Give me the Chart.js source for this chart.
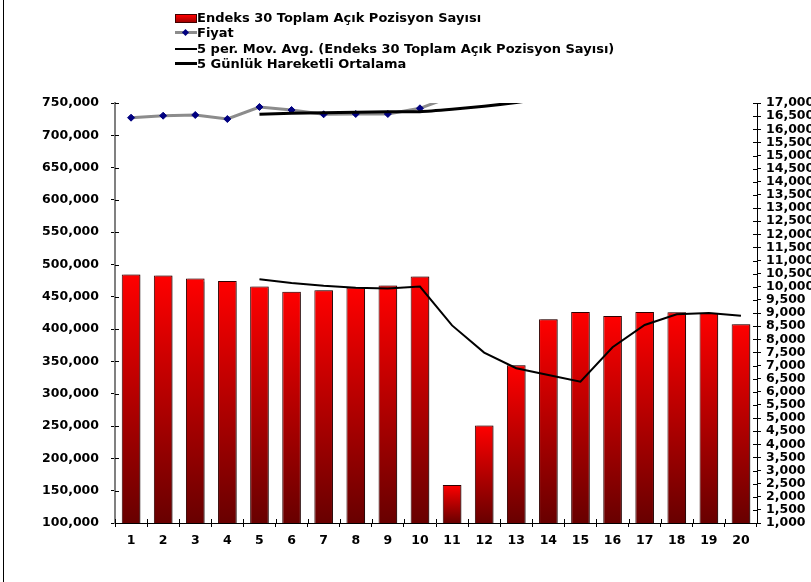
<!DOCTYPE html>
<html>
<head>
<meta charset="utf-8">
<script src="https://cdn.jsdelivr.net/npm/chart.js@4.4.1/dist/chart.umd.min.js"></script>
<style>
  html, body { margin: 0; padding: 0; background: #fff; }
  #wrap { position: relative; width: 811px; height: 582px; overflow: hidden; }
  #frame { position: absolute; left: 3px; top: 0; width: 1px; height: 582px; background: #000; }
  #legend { position: absolute; left: 175px; top: 10px; font: bold 13px "DejaVu Sans", Verdana, sans-serif; color: #000; }
  .row { height: 15.3px; line-height: 15.3px; white-space: nowrap; display: flex; align-items: center; }
  .sample { position: relative; width: 22px; height: 15px; display: inline-block; }
  .box { position: absolute; left: 0; top: 4px; width: 20px; height: 7px; border: 1px solid #400000; background: linear-gradient(#ff0000, #a00000); }
  .ln { position: absolute; left: 0; width: 22px; }
  .dia { position: absolute; left: 8px; top: 4.5px; width: 5px; height: 5px; background: #000080; transform: rotate(45deg); }
</style>
</head>
<body>
<div id="wrap">
  <canvas id="chart" width="811" height="582"></canvas>
  <div id="frame"></div>
  <div id="legend">
    <div class="row"><span class="sample"><span class="box"></span></span>Endeks 30 Toplam Açık Pozisyon Sayısı</div>
    <div class="row"><span class="sample"><span class="ln" style="top:6px;height:3px;background:#8c8c8c"></span><span class="dia"></span></span>Fiyat</div>
    <div class="row"><span class="sample"><span class="ln" style="top:7px;height:2px;background:#000"></span></span>5 per. Mov. Avg. (Endeks 30 Toplam Açık Pozisyon Sayısı)</div>
    <div class="row"><span class="sample"><span class="ln" style="top:6px;height:3px;background:#000"></span></span>5 Günlük Hareketli Ortalama</div>
  </div>
</div>
<script>
// veriler
const days = ["1", "2", "3", "4", "5", "6", "7", "8", "9", "10",
  "11", "12", "13", "14", "15", "16", "17", "18", "19", "20"];
const openInterest = [484500, 483000, 478300, 474700, 465900, 457700, 460200, 464400, 467500, 481400,
  158800, 251000, 344100, 415300, 426600, 420400, 426600, 426100, 425100, 407600];
const openInterestMA = [null, null, null, null, 477300, 471500, 467200, 464200, 462900, 466000,
  405800, 363800, 339500, 329100, 318700, 372000, 406500, 423100, 425100, 420900];
// fiyat 10. günden sonra grafiğin üstünden çıkıyor (17,000 üstü)
const price = [16440, 16516, 16543, 16390, 16848, 16733, 16570, 16581, 16581, 16798,
  17250, 17400, 17600, 17700, 17800, 17900, 17800, 17700, 17800, 17900];
const priceMA = [null, null, null, null, 16570, 16610, 16630, 16645, 16670, 16670,
  16760, 16876, 17020, 17200, 17400, 17550, 17650, 17700, 17750, 17800];

const tickFont = { family: "DejaVu Sans", weight: "bold", size: 12.5 };

// her çubuk için üstten alta kırmızı degrade
function barGradient(context) {
  const chart = context.chart;
  if (!chart.chartArea || context.type !== "data") return "#d00000";
  const y = chart.scales.y;
  const top = y.getPixelForValue(context.raw);
  const bottom = y.getPixelForValue(y.min);
  const g = chart.ctx.createLinearGradient(0, top, 0, bottom);
  g.addColorStop(0, "#ff0000");
  g.addColorStop(1, "#680000");
  return g;
}

// çubuklara gri gölge
const barShadow = {
  id: "barShadow",
  beforeDatasetDraw(chart, args) {
    if (args.meta.type !== "bar") return;
    const ctx = chart.ctx;
    ctx.save();
    ctx.shadowColor = "rgba(0,0,0,0.35)";
    ctx.shadowOffsetX = 2;
    ctx.shadowOffsetY = 0;
    ctx.shadowBlur = 1;
  },
  afterDatasetDraw(chart, args) {
    if (args.meta.type !== "bar") return;
    chart.ctx.restore();
  },
};

// eksen çizgisinin iç tarafına da tik çiz (Excel tarzı)
const crossTicks = {
  id: "crossTicks",
  afterDraw(chart) {
    const ctx = chart.ctx;
    const { y, y1, x } = chart.scales;
    const len = 4;
    ctx.save();
    ctx.strokeStyle = "#000";
    ctx.lineWidth = 1;
    ctx.beginPath();
    y.ticks.forEach((t, i) => {
      const py = Math.round(y.getPixelForTick(i)) + 0.5;
      ctx.moveTo(y.right, py);
      ctx.lineTo(y.right + len, py);
    });
    y1.ticks.forEach((t, i) => {
      const py = Math.round(y1.getPixelForTick(i)) + 0.5;
      ctx.moveTo(y1.left - len, py);
      ctx.lineTo(y1.left, py);
    });
    const half = (x.getPixelForTick(1) - x.getPixelForTick(0)) / 2;
    for (let i = 0; i <= x.ticks.length; i++) {
      const px = Math.round(x.getPixelForTick(0) - half + i * half * 2) + 0.5;
      ctx.moveTo(px, x.top - len);
      ctx.lineTo(px, x.top);
    }
    ctx.stroke();
    ctx.restore();
  },
};

new Chart(document.getElementById("chart"), {
  type: "bar",
  data: {
    labels: days,
    datasets: [
      {
        label: "5 Günlük Hareketli Ortalama",
        type: "line",
        data: priceMA,
        yAxisID: "y1",
        borderColor: "#000",
        borderWidth: 3,
        pointRadius: 0,
        tension: 0.2,
        order: 1,
      },
      {
        label: "Fiyat",
        type: "line",
        data: price,
        yAxisID: "y1",
        borderColor: "#8c8c8c",
        borderWidth: 3,
        pointStyle: "rectRot",
        pointRadius: 3.5,
        pointBackgroundColor: "#000080",
        pointBorderColor: "#000080",
        pointBorderWidth: 1,
        tension: 0,
        order: 2,
      },
      {
        label: "5 per. Mov. Avg. (Endeks 30 Toplam Açık Pozisyon Sayısı)",
        type: "line",
        data: openInterestMA,
        yAxisID: "y",
        borderColor: "#000",
        borderWidth: 2,
        pointRadius: 0,
        tension: 0,
        order: 3,
      },
      {
        label: "Endeks 30 Toplam Açık Pozisyon Sayısı",
        data: openInterest,
        yAxisID: "y",
        backgroundColor: barGradient,
        borderColor: "#300000",
        borderWidth: 1,
        barPercentage: 0.58,
        categoryPercentage: 1,
        order: 4,
      },
    ],
  },
  options: {
    responsive: false,
    animation: false,
    layout: { padding: { top: 103, left: 0, right: 0, bottom: 0 } },
    scales: {
      x: {
        offset: true,
        grid: { drawOnChartArea: false, tickLength: 4, color: "#000", offset: true },
        border: { color: "#000", width: 1 },
        ticks: { font: tickFont, color: "#000", padding: 6, maxRotation: 0 },
        afterFit(scale) { scale.height = 59; },
      },
      y: {
        position: "left",
        min: 100000,
        max: 750000,
        ticks: {
          stepSize: 50000,
          font: tickFont,
          color: "#000",
          padding: 12,
          callback: (v) => v.toLocaleString("en-US"),
        },
        grid: { drawOnChartArea: false, tickLength: 4, color: "#000" },
        border: { color: "#808080", width: 2 },
        afterFit(scale) { scale.width = 115; },
      },
      y1: {
        position: "right",
        min: 1000,
        max: 17000,
        ticks: {
          stepSize: 500,
          font: tickFont,
          color: "#000",
          padding: 5,
          autoSkip: false,
          callback: (v) => v.toLocaleString("en-US"),
        },
        grid: { drawOnChartArea: false, tickLength: 4, color: "#000" },
        border: { color: "#000", width: 1 },
        afterFit(scale) { scale.width = 54; },
      },
    },
    plugins: {
      legend: { display: false },
      tooltip: { enabled: false },
    },
  },
  plugins: [barShadow, crossTicks],
});
</script>
</body>
</html>
